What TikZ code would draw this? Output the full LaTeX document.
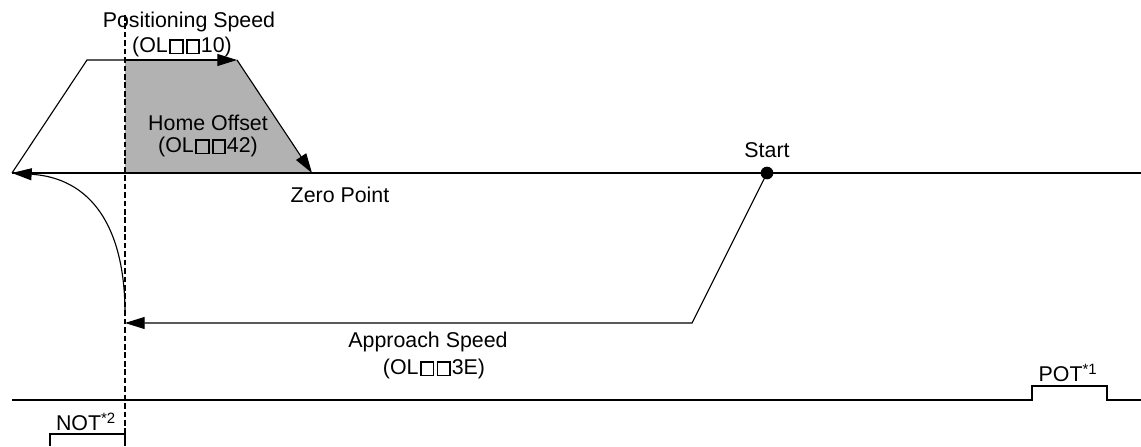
\documentclass[tikz,border=0pt]{standalone}
\usepackage{fontspec}
\setmainfont{Liberation Sans}
\usetikzlibrary{arrows.meta,positioning}

% square placeholder of the parameter number
\newcommand{\sqb}{\kern1pt{\setlength{\fboxsep}{0pt}\setlength{\fboxrule}{1.3pt}\fbox{\rule{0pt}{8.2pt}\kern7.6pt}}\kern0.6pt}

\begin{document}
\begin{tikzpicture}[x=0.025cm,y=-0.025cm,
		line width=0.8pt,
		tip/.style={-{Triangle[length=14pt,width=8.5pt]}},
		lbl/.style={font=\fontsize{15.2}{17}\selectfont,inner sep=0pt,align=center}]
		
		\useasboundingbox (0,0) rectangle (1141,446);
		
		\coordinate (L) at (12,173);
		\coordinate (R) at (1141,173);
		\coordinate (TL) at (87,60);
		\coordinate (TR) at (237,60);
		\coordinate (Z) at (312,173);
		\coordinate (D1) at (125,60);
		\coordinate (D2) at (125,173);
		\coordinate (A) at (692,323);
		\coordinate (B) at (125,323);
		\coordinate (C) at (125,310);
		
		% home offset area
		\fill[black!30] (D1)--(TR)--(Z)--(D2)--cycle;
		
		\draw (L)--(R);
		\draw (L)--(TL)--(D1);
		\draw[tip] (D1)--(TR);
		\draw[tip] (TR)--(Z);
		
		\node[circle,fill,inner sep=0pt,minimum size=9pt] (start) at (767,173) {};
		\draw[tip] (start.center)--(A)--(B);
		\draw[tip] (C) .. controls (124,225) and (90,178) .. (L);
		
		\draw[line width=1pt,dash pattern=on 4pt off 2pt] (125,15)--(125,446);
		
		% limit signals
		\draw (12,400)--(1032,400)--(1032,386)--(1107,386)--(1107,400)--(1141,400);
		\draw (50,446)--(50,434)--(125,434)--(125,446);
		
		\node[lbl] (pspeed) at (189,22) {Positioning Speed};
		\node[lbl] (pparam) at (182,47) {(OL\sqb\sqb10)};
		\node[lbl] (hoff) at (208,123) {Home Offset};
		\node[lbl] (hparam) at (208,147) {(OL\sqb\sqb42)};
		\node[lbl] (zero) at (340,195) {Zero Point};
		\node[lbl] (stlbl) at (767,150) {Start};
		\node[lbl] (aspeed) at (428,342) {Approach Speed};
		\node[lbl] (aparam) at (434,369) {(OL\sqb\sqb3E)};
		\node[lbl] (pot) at (1068,373) {POT\textsuperscript{*1}};
		\node[lbl] (not) at (86,422) {NOT\textsuperscript{*2}};
		
	\end{tikzpicture}
\end{document}
